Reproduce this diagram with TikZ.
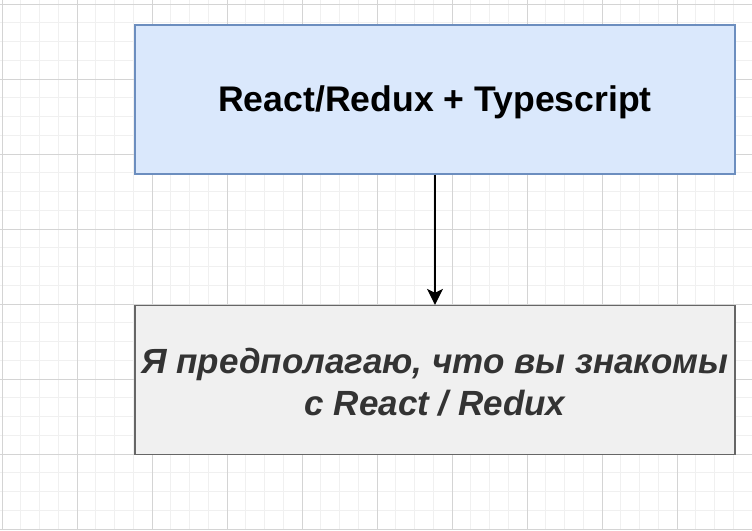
\documentclass[tikz,border=0pt]{standalone}
\usepackage{fontspec}
\setmainfont{Liberation Sans}
\usetikzlibrary{arrows.meta}
\definecolor{minorgrid}{HTML}{F0F0F0}
\definecolor{majorgrid}{HTML}{D4D4D4}
\definecolor{bluefill}{HTML}{DAE8FC}
\definecolor{bluestroke}{HTML}{6C8EBF}
\definecolor{grayfill}{HTML}{F0F0F0}
\definecolor{graystroke}{HTML}{666666}
\definecolor{darktext}{HTML}{333333}
\tikzset{
  boxnode/.style={minimum width=600pt, minimum height=149pt, inner sep=0pt, line width=1.3pt, align=center},
  topbox/.style={boxnode, draw=bluestroke, fill=bluefill, text=black, font=\fontsize{35.6}{44}\selectfont\bfseries},
  botbox/.style={boxnode, draw=graystroke, fill=grayfill, text=darktext, font=\fontsize{35}{42}\selectfont\bfseries\itshape},
  conn/.style={draw=black, line width=1.3pt, -{Stealth[length=16pt,width=16pt,inset=4pt]}}
}
\begin{document}
\begin{tikzpicture}[x=1pt,y=-1pt]
\fill[white] (0,0) rectangle (752,530);
\useasboundingbox (0,0) rectangle (752,530);
\foreach \i in {0,...,40} {
  \draw[minorgrid, line width=0.8pt] ({2+\i*18.75},0) -- ({2+\i*18.75},530);
}
\foreach \i in {0,...,28} {
  \draw[minorgrid, line width=0.8pt] (0,{4+\i*18.75}) -- (752,{4+\i*18.75});
}
\foreach \i in {0,...,10} {
  \draw[majorgrid, line width=0.8pt] ({2+\i*75},0) -- ({2+\i*75},530);
}
\foreach \i in {0,...,7} {
  \draw[majorgrid, line width=0.8pt] (0,{4+\i*75}) -- (752,{4+\i*75});
}
\node[topbox] (top) at (435,99.5) {\raisebox{-3pt}[\height][\depth]{React/Redux + Typescript}};
\node[botbox] (bot) at (435,380) {\raisebox{-2pt}[\height][\depth]{\parbox{600pt}{\centering Я предполагаю, что вы знакомы\\с React / Redux}}};
\draw[conn] (top) -- (bot);
\end{tikzpicture}
\end{document}
